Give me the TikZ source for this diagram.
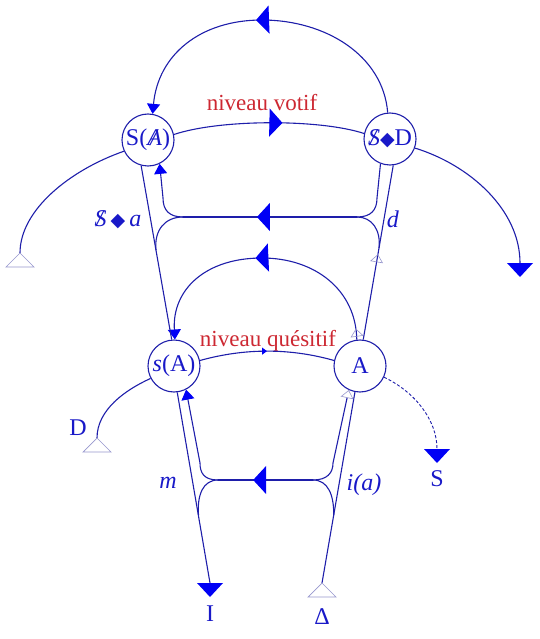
\documentclass[tikz,border=0pt]{standalone}
\usepackage{fontspec}
\setmainfont{Liberation Serif}
\newfontfamily\dejavu{DejaVu Sans}
\usetikzlibrary{arrows.meta,decorations.markings}
\definecolor{lineblue}{RGB}{30,30,170}
\definecolor{tipblue}{RGB}{0,0,245}
\definecolor{txtblue}{RGB}{25,25,200}
\definecolor{lvlred}{RGB}{205,40,50}
\definecolor{paleblue}{RGB}{150,150,205}
\newcommand{\barS}{\ooalign{\textit{S}\cr\hidewidth\textit{/}\hidewidth\cr}}
\newcommand{\barA}{\ooalign{\textit{A}\cr\hidewidth\textit{/}\hidewidth\cr}}
\newcommand{\lozfill}{{\fontsize{19}{19}\dejavu ◆}}
\tikzset{
  conn/.style={draw=lineblue, line width=1.1pt},
  circ/.style={circle, draw=lineblue, line width=1.1pt, minimum size=52pt, inner sep=0pt, text=txtblue, font=\fontsize{24}{28}\selectfont},
  lbl/.style={text=txtblue, font=\fontsize{24}{28}\selectfont, inner sep=0pt},
  lvl/.style={text=lvlred, font=\fontsize{23}{27}\selectfont, inner sep=0pt},
  src/.style={draw=paleblue, line width=0.7pt},
  bigtri/.tip={Triangle[length=13pt,width=28pt,color=tipblue,fill=tipblue]},
  medtri/.tip={Triangle[length=10pt,width=13pt,color=tipblue,fill=tipblue]},
  smalltri/.tip={Triangle[length=5pt,width=7pt,color=tipblue,fill=tipblue]},
  opentri/.tip={Triangle[open,length=8pt,width=13pt,color=paleblue,line width=0.6pt]},
  midbig/.style={postaction={decorate,decoration={markings,mark=at position #1 with {\arrow{bigtri}}}}},
  midsmall/.style={postaction={decorate,decoration={markings,mark=at position #1 with {\arrow{smalltri}}}}},
  midopen/.style={postaction={decorate,decoration={markings,mark=at position #1 with {\arrow{opentri}}}}},
}
\begin{document}
\begin{tikzpicture}[x=1pt,y=-1pt]
\useasboundingbox (0,0) rectangle (539,639);
% main nodes
\node[circ] (SA) at (148,140) {S(\barA)};
\node[circ] (SD) at (390,139) {\barS\lozfill D};
\node[circ] (sA) at (174,366) {\textit{s}(A)};
\node[circ] (A) at (360,366) {A};
% labels
\node[lvl] (nv) at (262,103) {niveau votif};
\node[lvl] (nq) at (268,341) {niveau quésitif};
\node[lbl] (la) at (118,220) {\barS\,\lozfill\,\textit{a}};
\node[lbl] (ld) at (393,219) {\textit{d}};
\node[lbl] (lm) at (168,483) {\textit{m}};
\node[lbl] (lia) at (364,485) {\textit{i(a)}};
\node[lbl] (lI) at (210,614) {I};
\node[lbl] (lDelta) at (322,617) {Δ};
\node[lbl] (lS) at (437,479) {S};
\node[lbl] (lD) at (78,428) {D};
% terminal points and forks
\coordinate (t1) at (20,253);
\coordinate (t2) at (520,263);
\coordinate (t3) at (322,583);
\coordinate (t4) at (97,438);
\coordinate (Iend) at (210,583);
\coordinate (Send) at (437,449);
\coordinate (f1L) at (183,217);
\coordinate (f1R) at (357,217);
\coordinate (f2L) at (218,480);
\coordinate (f2R) at (313,480);
% top arc
\draw[conn,-{medtri},midbig=0.535] (SD.95) .. controls (383,55) and (325,20) .. (262,20) .. controls (200,20) and (158,55) .. (SA.80);
% niveau votif
\draw[conn,midbig=0.57] (SA.12) .. controls (220,119) and (320,119) .. (SD.168);
% niveau quesitif
\draw[conn,midsmall=0.5] (sA.12) .. controls (245,348) and (290,348) .. (A.168);
% middle arc
\draw[conn,-{medtri},midbig=0.53,midopen=0.04] (A.97) .. controls (356,290) and (315,258) .. (262,258) .. controls (205,258) and (172,290) .. (sA.88);
% S(A) to s(A)
\draw[conn] (SA.255) -- (sA.95);
% side curves
\draw[conn] (SA.205) .. controls (70,170) and (20,210) .. (t1);
\draw[conn] (SD.340) .. controls (470,165) and (520,210) .. (t2);
\draw[conn] (sA.208) .. controls (125,390) and (97,410) .. (t4);
\draw[conn,dashed,dash pattern=on 3pt off 2pt,line width=0.9pt] (A.335) .. controls (415,392) and (437,420) .. (Send);
% upper fork
\draw[conn,midbig=0.575] (f1R) -- (f1L);
\draw[conn,-{medtri}] (f1L) .. controls (169,217) and (163,210) .. (163,198) -- (SA.296);
\draw[conn] (f1L) .. controls (165,217) and (154,230) .. (156,250);
\draw[conn] (f1R) .. controls (371,217) and (377,210) .. (377,198) -- (SD.249);
\draw[conn] (f1R) .. controls (372,217) and (381,230) .. (379,248);
% d line
\draw[conn,midopen=0.49] (A.83) -- (SD.277);
% lower lines
\draw[conn] (sA.277) -- (Iend);
\draw[conn] (t3) -- (A.259);
\draw[conn,midbig=0.63] (f2R) -- (f2L);
\draw[conn,-{medtri}] (f2L) .. controls (204,480) and (200,473) .. (200,463) -- (sA.297);
\draw[conn] (f2L) .. controls (203,480) and (197,495) .. (198.5,515);
\draw[conn,-{opentri}] (f2R) .. controls (327,480) and (333,473) .. (333,463) -- (A.245);
\draw[conn] (f2R) .. controls (328,480) and (334,495) .. (333.7,515);
% terminal triangles
\fill[tipblue] (t2) ++(-13,0) -- ++(26,0) -- ++(-13,14) -- cycle;
\fill[tipblue] (Iend) ++(-13,0) -- ++(26,0) -- ++(-13,14) -- cycle;
\fill[tipblue] (Send) ++(-13,0) -- ++(26,0) -- ++(-13,14) -- cycle;
\draw[src] (t1) -- ++(-14,14) -- ++(28,0) -- cycle;
\draw[src] (t3) -- ++(-14,14) -- ++(28,0) -- cycle;
\draw[src] (t4) -- ++(-14,14) -- ++(28,0) -- cycle;
\end{tikzpicture}
\end{document}
